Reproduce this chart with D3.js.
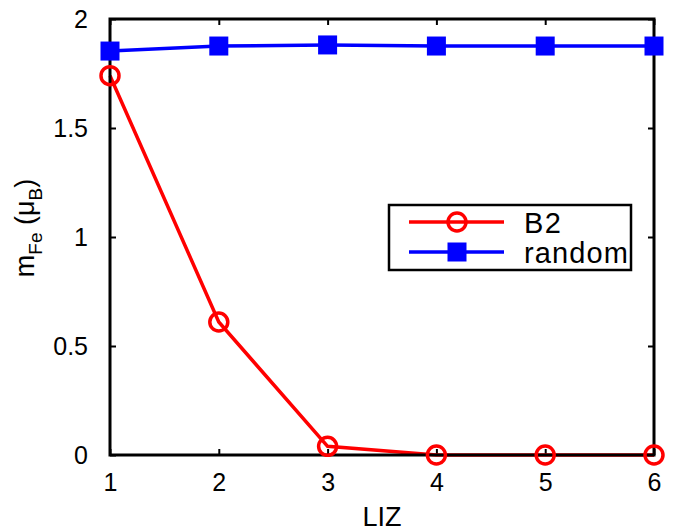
<!DOCTYPE html>
<html>
<head>
<meta charset="utf-8">
<script src="https://cdn.jsdelivr.net/npm/d3@7"></script>
<style>
body{margin:0;background:#fff;}
text{font-family:"Liberation Sans",Arial,sans-serif;fill:#000;}
</style>
</head>
<body>
<svg id="chart"></svg>
<script>
var liz=[1,2,3,4,5,6]
var b2Values=[1.74,0.61,0.04,0,0,0]
var randomValues=[1.853,1.876,1.881,1.876,1.876,1.876]
var yTicks=[0,0.5,1,1.5,2]
var yTickLabels=["0","0.5","1","1.5","2"]

var screen={width:678,height:529}
var margins={left:110,right:24,top:19,bottom:74}
var graph={
    width:screen.width-margins.left-margins.right,
    height:screen.height-margins.top-margins.bottom
}

var svg=d3.select("#chart")
    .attr("width",screen.width)
    .attr("height",screen.height)

var target=svg.append("g")
    .attr("transform","translate("+margins.left+","+margins.top+")")

var xScale=d3.scaleLinear().domain([1,6]).range([0,graph.width])
var yScale=d3.scaleLinear().domain([0,2]).range([graph.height,0])

// ticks on all four sides, pointing inward
var tickLen=6
target.append("g")
    .attr("transform","translate(0,"+graph.height+")")
    .call(d3.axisBottom(xScale).tickValues(liz).tickSize(-tickLen).tickPadding(18).tickFormat(d3.format("d")))
target.append("g")
    .call(d3.axisTop(xScale).tickValues(liz).tickSize(-tickLen).tickFormat(""))
target.append("g")
    .call(d3.axisLeft(yScale).tickValues(yTicks).tickSize(-tickLen).tickPadding(22)
        .tickFormat(function(d,i){return yTickLabels[i]}))
target.append("g")
    .attr("transform","translate("+graph.width+",0)")
    .call(d3.axisRight(yScale).tickValues(yTicks).tickSize(-tickLen).tickFormat(""))

target.selectAll(".domain").remove()
target.selectAll(".tick line").attr("stroke","#000").attr("stroke-width",2)
target.selectAll(".tick text").attr("font-size",25).attr("fill","#000")

var line=d3.line()
    .x(function(d,i){return xScale(liz[i])})
    .y(function(d){return yScale(d)})

// series
target.append("path")
    .datum(randomValues)
    .attr("d",line)
    .attr("fill","none")
    .attr("stroke","#0000ff")
    .attr("stroke-width",3.5)
target.append("path")
    .datum(b2Values)
    .attr("d",line)
    .attr("fill","none")
    .attr("stroke","#ff0000")
    .attr("stroke-width",3.5)

// frame
target.append("rect")
    .attr("x",0).attr("y",0)
    .attr("width",graph.width).attr("height",graph.height)
    .attr("fill","none").attr("stroke","#000").attr("stroke-width",3)

var sq=19
target.selectAll(".sq")
    .data(randomValues)
    .enter()
    .append("rect")
    .attr("x",function(d,i){return xScale(liz[i])-sq/2})
    .attr("y",function(d){return yScale(d)-sq/2})
    .attr("width",sq).attr("height",sq)
    .attr("fill","#0000ff")
target.selectAll(".circ")
    .data(b2Values)
    .enter()
    .append("circle")
    .attr("cx",function(d,i){return xScale(liz[i])})
    .attr("cy",function(d){return yScale(d)})
    .attr("r",9)
    .attr("fill","none")
    .attr("stroke","#ff0000")
    .attr("stroke-width",3.5)

// legend
var legend=svg.append("g").attr("transform","translate(389,205)")
legend.append("rect")
    .attr("width",242).attr("height",65)
    .attr("fill","#fff").attr("stroke","#000").attr("stroke-width",2.5)
var entries=[
    {name:"B2",color:"#ff0000",y:17},
    {name:"random",color:"#0000ff",y:47}
]
entries.forEach(function(e,i){
    legend.append("line")
        .attr("x1",20).attr("x2",115)
        .attr("y1",e.y).attr("y2",e.y)
        .attr("stroke",e.color).attr("stroke-width",3.5)
    if(i==0){
        legend.append("circle")
            .attr("cx",68).attr("cy",e.y).attr("r",9)
            .attr("fill","none").attr("stroke",e.color).attr("stroke-width",3.5)
    }else{
        legend.append("rect")
            .attr("x",68-sq/2).attr("y",e.y-sq/2)
            .attr("width",sq).attr("height",sq).attr("fill",e.color)
    }
    legend.append("text")
        .text(e.name)
        .attr("x",135).attr("y",e.y+11)
        .attr("font-size",29)
        .attr("textLength",i==0?37:104)
})

// axis titles
svg.append("text")
    .attr("text-anchor","middle")
    .attr("x",margins.left+graph.width/2)
    .attr("y",526)
    .attr("font-size",27)
    .text("LIZ")

var yt=svg.append("text")
    .attr("text-anchor","middle")
    .attr("font-size",27)
    .attr("transform","translate(34,228) rotate(-90)")
yt.append("tspan").text("m")
yt.append("tspan").attr("font-size",19).attr("dy",8).text("Fe")
yt.append("tspan").attr("dy",-8).text(" (\u03bc")
yt.append("tspan").attr("font-size",19).attr("dy",8).text("B")
yt.append("tspan").attr("dy",-8).text(")")
</script>
</body>
</html>
